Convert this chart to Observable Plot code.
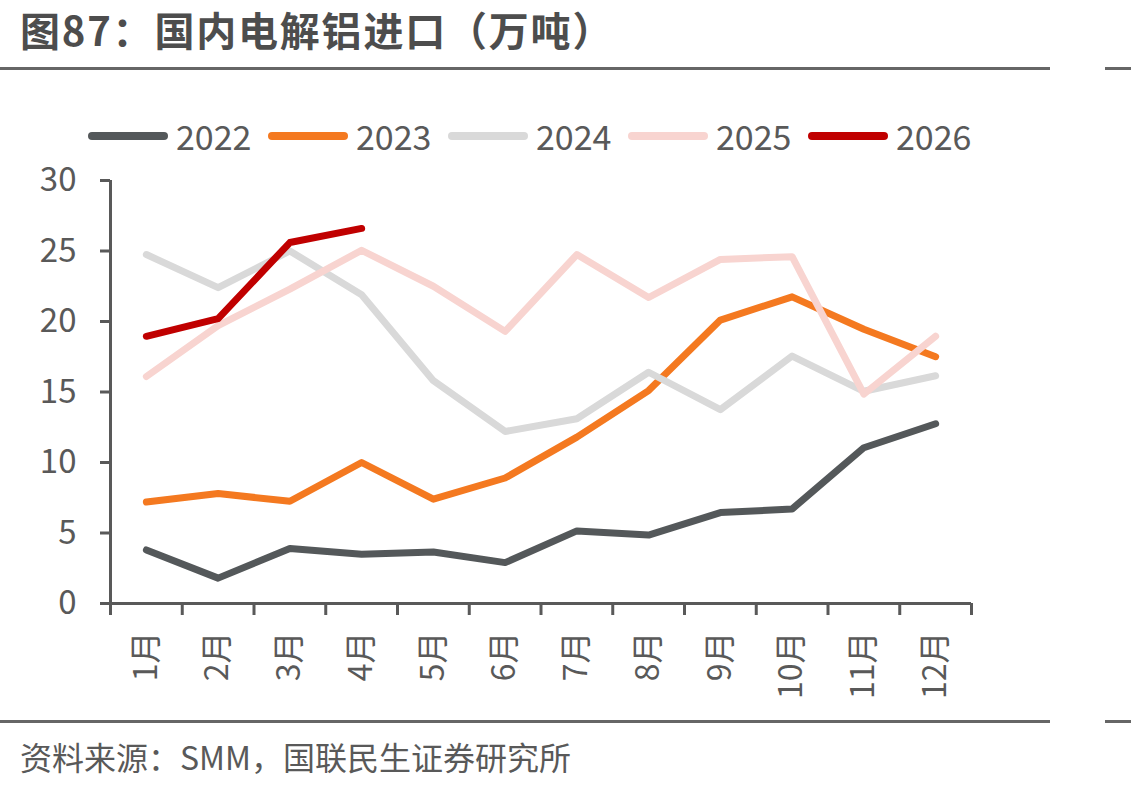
<!DOCTYPE html>
<html>
<head>
<meta charset="utf-8">
<script src="https://cdn.jsdelivr.net/npm/d3@7"></script>
<script src="https://cdn.jsdelivr.net/npm/@observablehq/plot@0.6"></script>
<style>
  html, body { margin: 0; padding: 0; background: #fff; }
  #wrap { position: relative; width: 1131px; height: 785px; font-family: "Noto Sans CJK SC", "Noto Sans", sans-serif; color: #595959; }
  #title { position: absolute; left: 20px; top: 0px; font-size: 40px; line-height: 58px; letter-spacing: 1.8px; font-weight: bold; color: #4d4d4d; white-space: nowrap; }
  .hr { position: absolute; height: 3px; background: #666; }
  #legend { position: absolute; left: 88px; top: 112px; height: 48px; display: flex; align-items: center; }
  .item { display: flex; align-items: center; margin-right: 10px; }
  .sw { width: 80px; height: 8px; border-radius: 4px; margin-right: 8px; }
  .lt { font-size: 34px; line-height: 48px; color: #595959; width: 82px; }
  #chart { position: absolute; left: 0; top: 160px; }
  #source { position: absolute; left: 20px; top: 733px; font-size: 32px; line-height: 46px; color: #595959; white-space: nowrap; }
</style>
</head>
<body>
<div id="wrap">
  <div id="title">图87：国内电解铝进口（万吨）</div>
  <div class="hr" style="left:0;top:67px;width:1050px"></div>
  <div class="hr" style="left:1105px;top:67px;width:26px"></div>
  <div id="legend"></div>
  <div id="chart"></div>
  <div class="hr" style="left:0;top:720px;width:1050px"></div>
  <div class="hr" style="left:1105px;top:720px;width:26px"></div>
  <div id="source">资料来源：SMM，国联民生证券研究所</div>
</div>
<script>
const months = ["1月","2月","3月","4月","5月","6月","7月","8月","9月","10月","11月","12月"];
const years = ["2022","2023","2024","2025","2026"];
const colors = ["#54585a","#f47920","#d9d9d9","#f8d4d0","#c00000"];
const yTicks = [0,5,10,15,20,25,30];
const v2022 = [3.8,1.8,3.9,3.5,3.65,2.9,5.15,4.85,6.45,6.7,11.05,12.75];
const v2023 = [7.2,7.8,7.25,10.0,7.4,8.9,11.8,15.1,20.1,21.75,19.45,17.5];
const v2024 = [24.75,22.4,25.0,21.9,15.8,12.2,13.1,16.4,13.75,17.55,15.05,16.15];
const v2025 = [16.1,19.7,22.3,25.05,22.5,19.3,24.75,21.7,24.4,24.6,14.85,18.95];
const v2026 = [18.95,20.2,25.6,26.6];
const series = [v2022, v2023, v2024, v2025, v2026];

const data = [];
series.forEach((vals, si) => vals.forEach((v, i) => data.push({year: years[si], xi: i + 0.5, value: v})));

// legend
const legend = document.getElementById("legend");
years.forEach((y, i) => {
  const it = document.createElement("div"); it.className = "item";
  const sw = document.createElement("div"); sw.className = "sw"; sw.style.background = colors[i];
  const lt = document.createElement("div"); lt.className = "lt"; lt.textContent = y;
  it.appendChild(sw); it.appendChild(lt); legend.appendChild(it);
});

const axisColor = "#595959";
const chart = Plot.plot({
  width: 1131,
  height: 558,
  marginLeft: 110,
  marginRight: 160,
  marginTop: 20,
  marginBottom: 115,
  style: {fontFamily: '"Noto Sans CJK SC", "Noto Sans", sans-serif', color: axisColor, background: "transparent", overflow: "visible"},
  x: {type: "linear", domain: [0, 12]},
  y: {domain: [0, 30]},
  color: {domain: years, range: colors},
  marks: [
    Plot.ruleX([0], {y1: 0, y2: 30, stroke: axisColor, strokeWidth: 3}),
    Plot.ruleY([0], {x1: 0, x2: 12, stroke: axisColor, strokeWidth: 3}),
    Plot.axisY({ticks: yTicks, tickSize: 10, tickPadding: 24, stroke: axisColor, strokeWidth: 3, fontSize: 33, fill: axisColor, label: null}),
    Plot.axisX({ticks: d3.range(13), tickSize: 12, tickFormat: () => "", stroke: axisColor, strokeWidth: 3, label: null}),
    Plot.axisX({ticks: months.map((m, i) => i + 0.5), tickSize: 0, tickPadding: 28, tickRotate: -90,
      tickFormat: d => months[Math.round(d - 0.5)], fontSize: 32, fill: axisColor, label: null}),
    Plot.line(data, {x: "xi", y: "value", z: "year", stroke: "year", strokeWidth: 7, strokeLinecap: "round", strokeLinejoin: "round"})
  ]
});
document.getElementById("chart").appendChild(chart);
</script>
</body>
</html>
